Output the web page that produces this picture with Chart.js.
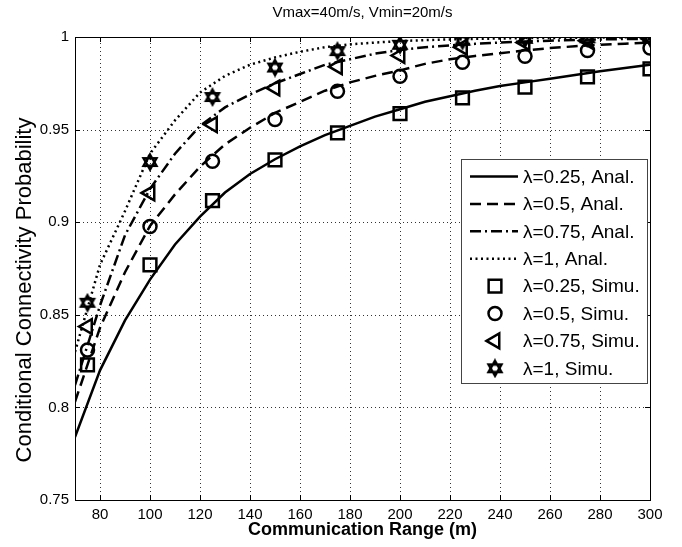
<!DOCTYPE html>
<html>
<head>
<meta charset="utf-8">
<script src="https://cdn.jsdelivr.net/npm/chart.js@4/dist/chart.umd.min.js"></script>
<style>
  html, body { margin: 0; padding: 0; background: #fff; }
  #wrap { width: 682px; height: 547px; }
</style>
</head>
<body>
<div id="wrap"><canvas id="myChart"></canvas></div>
<script>
// analytic curves
const rangeAnal = [70, 80, 90, 100, 110, 120, 130, 140, 150, 160, 170, 180, 190, 200, 210, 220, 230, 240, 250, 260, 270, 280, 290, 300];
const anal025 = [0.784, 0.820, 0.847, 0.869, 0.888, 0.903, 0.916, 0.926, 0.934, 0.941, 0.947, 0.952, 0.957, 0.961, 0.965, 0.968, 0.971, 0.9735, 0.9755, 0.9775, 0.9795, 0.9815, 0.9833, 0.985];
const anal05 = [0.803, 0.843, 0.873, 0.898, 0.915, 0.930, 0.942, 0.951, 0.959, 0.965, 0.971, 0.9755, 0.979, 0.982, 0.9855, 0.988, 0.9898, 0.9912, 0.9928, 0.994, 0.995, 0.9958, 0.9964, 0.997];
const anal075 = [0.812, 0.855, 0.893, 0.918, 0.937, 0.952, 0.962, 0.969, 0.975, 0.980, 0.985, 0.988, 0.991, 0.993, 0.9945, 0.9955, 0.9963, 0.997, 0.9976, 0.998, 0.9984, 0.9987, 0.9989, 0.999];
const anal1 = [0.830, 0.877, 0.906, 0.937, 0.955, 0.970, 0.979, 0.985, 0.989, 0.992, 0.9945, 0.996, 0.997, 0.9978, 0.9983, 0.9987, 0.999, 0.9992, 0.9994, 0.9995, 0.9996, 0.9997, 0.9998, 0.9998];

// simulation points
const rangeSimu = [75, 100, 125, 150, 175, 200, 225, 250, 275, 300];
const simu025 = [0.823, 0.877, 0.9116, 0.9337, 0.9482, 0.9586, 0.9671, 0.9729, 0.9785, 0.9828];
const simu05 = [0.831, 0.8977, 0.9329, 0.9555, 0.9707, 0.9788, 0.9864, 0.9896, 0.9927, 0.9941];
const simu075 = [0.8437, 0.9158, 0.9527, 0.9725, 0.984, 0.990, 0.9945, 0.997, 0.998, 0.999];
const simu1 = [0.8565, 0.9325, 0.9676, 0.9835, 0.9924, 0.9958, 0.998, 0.999, 0.9993, 0.9995];

const xTicks = [80, 100, 120, 140, 160, 180, 200, 220, 240, 260, 280, 300];
const yTicks = [0.75, 0.8, 0.85, 0.9, 0.95, 1];

const titleText = "Vmax=40m/s, Vmin=20m/s";
const yTitle = "Conditional Connectivity Probability";
const xTitle = "Communication Range (m)";
const FONT = "'Liberation Sans', Arial, sans-serif";

const pts = (xs, ys) => xs.map((x, i) => ({ x: x, y: ys[i] }));

// six-pointed star marker
function hexagram() {
  const c = document.createElement("canvas");
  c.width = 20; c.height = 20;
  const g = c.getContext("2d");
  g.strokeStyle = "#000";
  g.lineWidth = 2.4;
  const r = 7.5;
  [-Math.PI / 2, Math.PI / 2].forEach((a0) => {
    g.beginPath();
    for (let k = 0; k < 3; k++) {
      const a = a0 + k * 2 * Math.PI / 3;
      const px = 10 + r * Math.cos(a), py = 10 + r * Math.sin(a);
      if (k === 0) g.moveTo(px, py); else g.lineTo(px, py);
    }
    g.closePath();
    g.stroke();
  });
  return c;
}
const starImg = hexagram();

const lineDs = (label, ys, dash) => ({
  type: "line", label: label, data: pts(rangeAnal, ys),
  borderColor: "#000", borderWidth: 2.5, borderDash: dash,
  pointRadius: 0, fill: false, tension: 0,
});
const markDs = (label, ys, style, radius, rot) => ({
  type: "scatter", label: label, data: pts(rangeSimu, ys),
  pointStyle: style, pointRadius: radius, pointRotation: rot || 0,
  borderColor: "#000", backgroundColor: "rgba(0,0,0,0)", pointBorderWidth: 2.5,
});

const framePlugin = {
  id: "frame",
  beforeDatasetsDraw(chart) {
    // dotted grid
    const ctx = chart.ctx;
    const a = chart.chartArea;
    const xs = chart.scales.x, ys = chart.scales.y;
    ctx.save();
    ctx.strokeStyle = "#333";
    ctx.lineWidth = 1;
    ctx.setLineDash([1, 3]);
    ctx.beginPath();
    xTicks.forEach((v) => {
      const px = Math.round(xs.getPixelForValue(v)) + 0.5;
      ctx.moveTo(px, a.bottom); ctx.lineTo(px, a.top);
    });
    yTicks.forEach((v) => {
      const py = Math.round(ys.getPixelForValue(v)) + 0.5;
      ctx.moveTo(a.left, py); ctx.lineTo(a.right, py);
    });
    ctx.stroke();
    ctx.restore();
  },
  afterDraw(chart) {
    const ctx = chart.ctx;
    const a = chart.chartArea;
    const xs = chart.scales.x, ys = chart.scales.y;
    ctx.save();
    ctx.strokeStyle = "#000";
    ctx.lineWidth = 1;
    ctx.strokeRect(a.left + 0.5, a.top + 0.5, a.right - a.left, a.bottom - a.top);
    ctx.beginPath();
    xTicks.forEach((v) => {
      const px = Math.round(xs.getPixelForValue(v)) + 0.5;
      ctx.moveTo(px, a.bottom); ctx.lineTo(px, a.bottom - 5);
      ctx.moveTo(px, a.top); ctx.lineTo(px, a.top + 5);
    });
    yTicks.forEach((v) => {
      const py = Math.round(ys.getPixelForValue(v)) + 0.5;
      ctx.moveTo(a.left, py); ctx.lineTo(a.left + 5, py);
      ctx.moveTo(a.right, py); ctx.lineTo(a.right - 5, py);
    });
    ctx.stroke();

    // title and y label
    ctx.fillStyle = "#000";
    ctx.textAlign = "center";
    ctx.textBaseline = "middle";
    ctx.font = "15px " + FONT;
    ctx.fillText(titleText, (a.left + a.right) / 2, 13);
    ctx.save();
    ctx.translate(25, 290);
    ctx.rotate(-Math.PI / 2);
    ctx.font = "22px " + FONT;
    ctx.fillText(yTitle, 0, 0);
    ctx.restore();

    // legend box
    const bx = 461, by = 159, bw = 186, bh = 224;
    ctx.fillStyle = "#fff";
    ctx.fillRect(bx, by, bw, bh);
    ctx.strokeStyle = "#444";
    ctx.strokeRect(bx + 0.5, by + 0.5, bw, bh);
    ctx.font = "19px " + FONT;
    ctx.textAlign = "left";
    chart.data.datasets.forEach((ds, i) => {
      const ry = 176.5 + i * 27.4;
      ctx.save();
      ctx.strokeStyle = "#000";
      ctx.fillStyle = "#fff";
      if (ds.type === "line") {
        ctx.lineWidth = 2.5;
        ctx.setLineDash(ds.borderDash || []);
        ctx.beginPath();
        ctx.moveTo(470, ry); ctx.lineTo(518, ry);
        ctx.stroke();
      } else {
        ctx.lineWidth = 2.5;
        Chart.helpers.drawPoint(ctx, {
          pointStyle: ds.pointStyle, rotation: ds.pointRotation,
          radius: ds.pointRadius, borderWidth: 2.5,
        }, 495, ry);
      }
      ctx.restore();
      ctx.fillStyle = "#000";
      ctx.fillText(ds.label, 523, ry + 1);
    });
    ctx.restore();
  },
};

new Chart(document.getElementById("myChart"), {
  data: {
    datasets: [
      lineDs("λ=0.25, Anal.", anal025, []),
      lineDs("λ=0.5, Anal.", anal05, [11, 6]),
      lineDs("λ=0.75, Anal.", anal075, [11, 4, 2, 4]),
      lineDs("λ=1, Anal.", anal1, [2, 3.5]),
      markDs("λ=0.25, Simu.", simu025, "rect", 9),
      markDs("λ=0.5, Simu.", simu05, "circle", 6.5),
      markDs("λ=0.75, Simu.", simu075, "triangle", 8.5, 270),
      markDs("λ=1, Simu.", simu1, starImg, 10),
    ],
  },
  options: {
    responsive: true,
    maintainAspectRatio: false,
    animation: false,
    events: [],
    layout: { padding: { left: 0, right: 32, top: 37, bottom: 0 } },
    plugins: {
      legend: { display: false },
      tooltip: { enabled: false },
      title: { display: false },
    },
    scales: {
      x: {
        type: "linear",
        min: 70, max: 300,
        afterBuildTicks: (s) => { s.ticks = xTicks.map((v) => ({ value: v })); },
        afterFit: (s) => { s.height = 47; },
        ticks: { color: "#000", padding: 6, maxRotation: 0, font: { family: FONT, size: 15 } },
        grid: { display: false, drawTicks: false },
        border: { display: false },
        title: {
          display: true, text: xTitle, color: "#000",
          font: { family: FONT, size: 18, weight: "bold", lineHeight: 1.2 },
          padding: { top: 0, bottom: 6 },
        },
      },
      y: {
        min: 0.75, max: 1,
        afterBuildTicks: (s) => { s.ticks = yTicks.map((v) => ({ value: v })); },
        afterFit: (s) => { s.width = 75; },
        ticks: {
          color: "#000", padding: 6,
          font: { family: FONT, size: 15 },
          callback: (v) => String(+v.toFixed(2)),
        },
        grid: { display: false, drawTicks: false },
        border: { display: false },
      },
    },
  },
  plugins: [framePlugin],
});
</script>
</body>
</html>
